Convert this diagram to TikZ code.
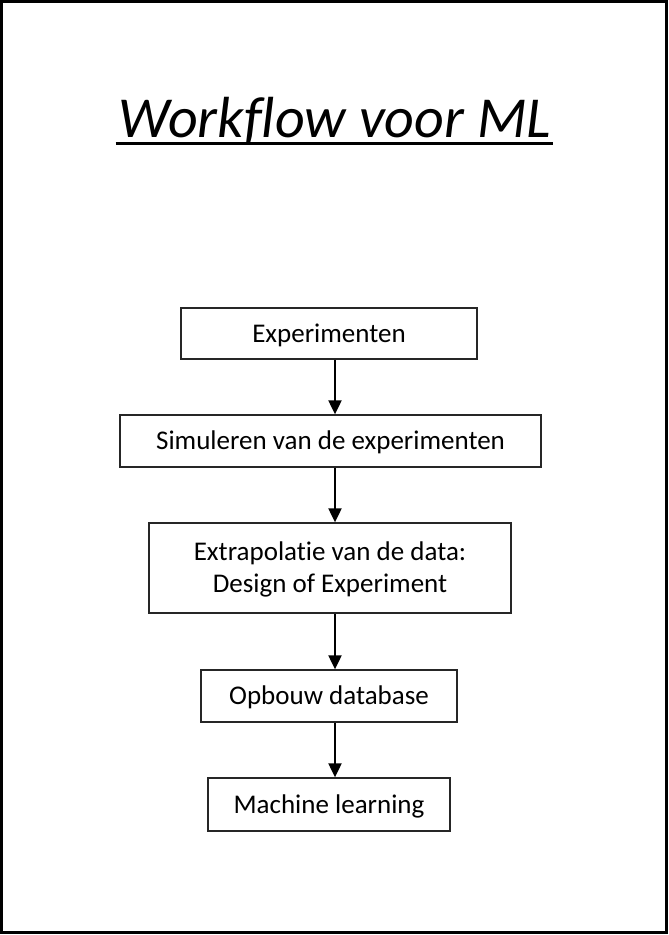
\documentclass[tikz,border=0pt]{standalone}
\usepackage{fontspec}
\setmainfont{Carlito}[Ligatures=NoCommon]
\usetikzlibrary{arrows.meta}
\begin{document}
\begin{tikzpicture}[x=1pt,y=-1pt,
  box/.style={draw=black!85, line width=1.3pt, rectangle, inner sep=0pt, text depth=1pt, font=\fontsize{27}{32}\selectfont, align=center},
  flow/.style={line width=2pt, -{Triangle[width=13pt,length=14pt]}}]
\useasboundingbox (0,0) rectangle (669,935);
\draw[line width=3pt] (1.5,1.5) rectangle (666.5,932.5);
\node[font=\fontsize{58}{66}\selectfont\itshape, anchor=base, inner sep=0pt] (title) at (335,137) {Workflow voor ML};
\draw[line width=3pt] ([xshift=-3pt,yshift=-6.5pt]title.base west) -- ([xshift=2pt,yshift=-6.5pt]title.base east);
\node[box, minimum width=296pt, minimum height=51pt] (n1) at (329,333.5) {Experimenten};
\node[box, minimum width=421pt, minimum height=52pt] (n2) at (330.5,441) {Simuleren van de experimenten};
\node[box, minimum width=362pt, minimum height=90pt] (n3) at (330,568) {Extrapolatie van de data:\\Design of Experiment};
\node[box, minimum width=256pt, minimum height=52pt] (n4) at (329,696) {Opbouw database};
\node[box, minimum width=242pt, minimum height=53pt] (n5) at (329,804.5) {Machine learning};
\coordinate (ax) at (335,0);
\draw[flow] (n1.south -| ax) -- (n2.north -| ax);
\draw[flow] (n2.south -| ax) -- (n3.north -| ax);
\draw[flow] (n3.south -| ax) -- (n4.north -| ax);
\draw[flow] (n4.south -| ax) -- (n5.north -| ax);
\end{tikzpicture}
\end{document}
